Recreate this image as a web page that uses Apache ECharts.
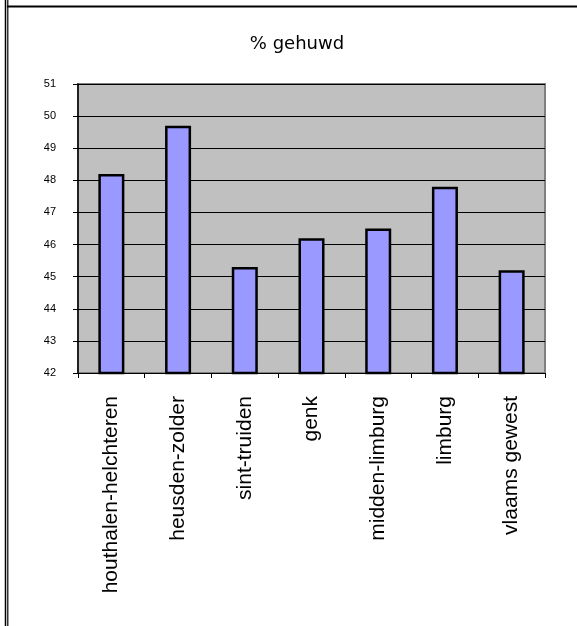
<!DOCTYPE html>
<html>
<head>
<meta charset="utf-8">
<script src="https://cdn.jsdelivr.net/npm/echarts@6/dist/echarts.min.js"></script>
<style>html,body{margin:0;padding:0;background:#fff;}#c{width:577px;height:626px;}</style>
</head>
<body>
<div id="c"></div>
<script>
const title = '% gehuwd';
const categories = ['houthalen-helchteren', 'heusden-zolder', 'sint-truiden', 'genk', 'midden-limburg', 'limburg', 'vlaams gewest'];
const values = [48.2, 49.7, 45.3, 46.2, 46.5, 47.8, 45.2];
const yMin = 42, yMax = 51, yStep = 1;

const chart = echarts.init(document.getElementById('c'), null, {renderer: 'canvas'});
chart.setOption({
  animation: false,
  backgroundColor: '#ffffff',
  title: {
    text: title, left: 292, top: 30, textAlign: 'center',
    textStyle: {fontFamily: 'DejaVu Sans', fontSize: 18, fontWeight: 'normal', color: '#000'}
  },
  grid: {
    left: 78, right: 32, top: 84, bottom: 253,
    show: true, backgroundColor: '#c0c0c0', borderColor: '#808080', borderWidth: 2
  },
  xAxis: {
    type: 'category', data: categories,
    axisLine: {show: true, lineStyle: {color: '#000', width: 1}},
    axisTick: {show: true, alignWithLabel: false, length: 5, lineStyle: {color: '#000'}},
    axisLabel: {rotate: 90, margin: 23, interval: 0, color: '#000',
      fontFamily: 'Liberation Sans', fontSize: 21}
  },
  yAxis: {
    type: 'value', min: yMin, max: yMax, interval: yStep,
    axisLine: {show: true, lineStyle: {color: '#000', width: 1.5}},
    axisTick: {show: true, length: 5, lineStyle: {color: '#000'}},
    axisLabel: {margin: 22, color: '#000', fontFamily: 'Liberation Sans', fontSize: 11},
    splitLine: {show: true, lineStyle: {color: '#000', width: 1}}
  },
  series: [{
    type: 'bar', data: values, barWidth: '39%',
    itemStyle: {color: '#9999ff', borderColor: '#000', borderWidth: 2.5}
  }],
  graphic: [
    {type: 'line', shape: {x1: 5.5, y1: 0, x2: 5.5, y2: 626}, style: {stroke: '#000', lineWidth: 1.5}, silent: true},
    {type: 'line', shape: {x1: 7.8, y1: 0, x2: 7.8, y2: 626}, style: {stroke: '#000', lineWidth: 1.2}, silent: true},
    {type: 'line', shape: {x1: 7, y1: 6.5, x2: 577, y2: 6.5}, style: {stroke: '#000', lineWidth: 2}, silent: true}
  ]
});
</script>
</body>
</html>
